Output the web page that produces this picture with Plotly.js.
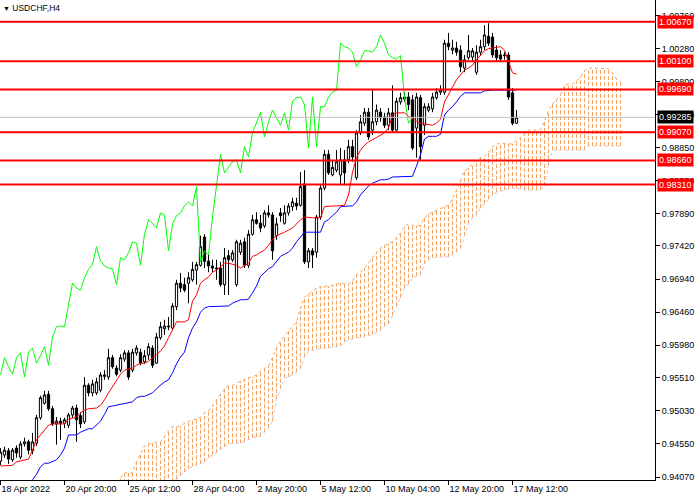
<!DOCTYPE html>
<html>
<head>
<meta charset="utf-8">
<script src="https://cdn.plot.ly/plotly-3.0.1.min.js"></script>
<style>html,body{margin:0;padding:0;background:#fff;}#chart{width:700px;height:500px;}</style>
</head>
<body>
<div id="chart"></div>
<script>
const symbolTitle = 'USDCHF,H4';
const tickBars = [0,16,32,48,64,80,96,112,128];
const tickLabels = ['18 Apr 2022','20 Apr 20:00','25 Apr 12:00','28 Apr 04:00','2 May 20:00','5 May 12:00','10 May 04:00','12 May 20:00','17 May 12:00'];
const priceTicks = [0.94070,0.94550,0.95030,0.95510,0.95980,0.96460,0.96940,0.97420,0.97890,0.98370,0.98850,0.99320,0.99800,1.00280,1.00760];
const levels = [1.00670,1.00100,0.99690,0.99070,0.98660,0.98310];
const bid = 0.99285;
const chikouShift = 26;
const cloudStart = 30;

const barOpen = [
.9430,.9439,.9445,.9432,.9449,.9436,.9455,.9458,.9445,.9456,
.9493,.9514,.9527,.9506,.9484,.9488,.9485,.9482,.9497,.9507,
.9496,.9487,.9540,.9529,.9529,.9533,.9553,.9552,.9580,.9565,
.9562,.9578,.9587,.9562,.9587,.9588,.9574,.9584,.9594,.9572,
.9609,.9622,.9626,.9623,.9654,.9688,.9686,.9688,.9693,.9707,
.9714,.9755,.9720,.9713,.9710,.9710,.9686,.9728,.9722,.9686,
.9733,.9748,.9714,.9759,.9780,.9775,.9771,.9790,.9787,.9757,
.9790,.9775,.9790,.9799,.9804,.9801,.9832,.9719,.9735,.9733,
.9784,.9826,.9875,.9845,.9852,.9845,.9867,.9867,.9886,.9841,
.9906,.9920,.9936,.9910,.9922,.9936,.9929,.9917,.9935,.9910,
.9951,.9955,.9958,.9954,.9913,.9957,.9917,.9939,.9941,.9957,
.9965,.9965,1.0036,1.0026,1.0029,1.0026,1.0000,1.0015,1.0016,.9994,
1.0023,1.0031,1.0046,1.0045,1.0026,1.0019,1.0019,1.0019,.9964,.9920];
const barHigh = [
.9449,.9451,.9449,.9449,.9453,.9459,.9464,.9461,.9471,.9497,
.9525,.9532,.9532,.9510,.9494,.9493,.9493,.9500,.9510,.9512,
.9501,.9552,.9543,.9548,.9551,.9559,.9562,.9593,.9584,.9569,
.9585,.9591,.9591,.9593,.9598,.9593,.9591,.9601,.9598,.9616,
.9632,.9635,.9639,.9659,.9693,.9703,.9696,.9704,.9719,.9719,
.9757,.9759,.9729,.9722,.9722,.9719,.9739,.9736,.9736,.9751,
.9751,.9754,.9765,.9787,.9791,.9787,.9794,.9801,.9791,.9783,
.9797,.9801,.9804,.9812,.9812,.9849,.9852,.9739,.9739,.9787,
.9830,.9881,.9881,.9867,.9881,.9884,.9881,.9896,.9896,.9910,
.9932,.9942,.9942,.9968,.9947,.9942,.9935,.9942,.9975,.9957,
.9964,.9965,.9965,.9961,.9964,.9961,.9949,.9949,.9964,.9971,
.9975,1.0041,1.0051,1.0041,1.0038,1.0033,1.0019,1.0048,1.0029,1.0033,
1.0041,1.0062,1.0065,1.0051,1.0033,1.0026,1.0023,1.0023,.9971,.9939];
const barLow = [
.9424,.9435,.9426,.9429,.9435,.9433,.9451,.9440,.9440,.9452,
.9490,.9512,.9503,.9481,.9454,.9461,.9478,.9478,.9493,.9458,
.9478,.9484,.9524,.9524,.9526,.9530,.9548,.9548,.9564,.9553,
.9559,.9574,.9548,.9559,.9583,.9569,.9571,.9577,.9565,.9571,
.9606,.9613,.9620,.9620,.9649,.9675,.9675,.9659,.9690,.9686,
.9712,.9710,.9704,.9704,.9693,.9683,.9671,.9671,.9719,.9683,
.9729,.9710,.9710,.9757,.9773,.9762,.9768,.9783,.9722,.9751,
.9777,.9773,.9786,.9793,.9794,.9799,.9716,.9710,.9710,.9725,
.9780,.9823,.9845,.9843,.9849,.9830,.9830,.9862,.9864,.9838,
.9903,.9916,.9896,.9903,.9917,.9922,.9913,.9910,.9907,.9907,
.9947,.9951,.9939,.9881,.9870,.9867,.9903,.9936,.9936,.9954,
.9961,.9961,1.0026,1.0020,1.0018,.9994,.9994,1.0012,1.0009,.9990,
1.0018,1.0026,1.0032,1.0015,1.0009,1.0009,1.0012,.9954,.9917,.9919];
const barClose = [
.9443,.9446,.9433,.9446,.9442,.9455,.9458,.9446,.9458,.9493,
.9522,.9526,.9506,.9484,.9488,.9485,.9490,.9497,.9507,.9490,
.9484,.9540,.9529,.9542,.9545,.9555,.9555,.9580,.9567,.9556,
.9580,.9587,.9552,.9588,.9594,.9572,.9583,.9596,.9569,.9610,
.9625,.9626,.9625,.9655,.9688,.9681,.9678,.9696,.9708,.9715,
.9741,.9720,.9713,.9710,.9709,.9686,.9725,.9722,.9732,.9748,
.9746,.9714,.9759,.9780,.9775,.9768,.9790,.9787,.9735,.9774,
.9786,.9790,.9800,.9806,.9800,.9828,.9719,.9735,.9729,.9784,
.9826,.9875,.9848,.9856,.9864,.9867,.9848,.9886,.9871,.9906,
.9922,.9936,.9900,.9922,.9939,.9928,.9917,.9935,.9910,.9952,
.9957,.9958,.9947,.9884,.9958,.9886,.9944,.9944,.9958,.9965,
.9968,1.0036,1.0031,1.0029,1.0023,1.0002,1.0012,1.0025,1.0025,1.0023,
1.0031,1.0048,1.0036,1.0019,1.0015,1.0013,1.0018,.9958,.9920,.99285];

const tenkan = [
.9423,.9423,.9423,.9424,.9429,.9430,.9432,.9433,.9446,.9461,
.9468,.9475,.9482,.9484,.9484,.9484,.9484,.9491,.9493,.9494,
.9500,.9504,.9506,.9507,.9507,.9511,.9519,.9529,.9538,.9548,
.9556,.9562,.9564,.9565,.9569,.9572,.9572,.9575,.9580,.9584,
.9590,.9597,.9609,.9620,.9632,.9632,.9632,.9635,.9662,.9671,
.9688,.9693,.9697,.9704,.9707,.9712,.9717,.9717,.9716,.9714,
.9710,.9713,.9717,.9727,.9729,.9733,.9736,.9743,.9751,.9757,
.9759,.9762,.9765,.9768,.9774,.9780,.9784,.9783,.9783,.9783,
.9783,.9799,.9800,.9800,.9800,.9800,.9801,.9816,.9849,.9870,
.9881,.9888,.9893,.9896,.9899,.9903,.9906,.9913,.9932,.9935,
.9935,.9935,.9930,.9926,.9923,.9920,.9919,.9917,.9917,.9920,
.9926,.9951,.9961,.9972,.9983,.9990,.9997,1.0000,1.0004,1.0012,
1.0018,1.0025,1.0028,1.0029,1.0031,1.0031,1.0026,1.0009,.9993,.9991];
const kijun = [
null,null,null,null,null,null,null,null,.9403,.9411,
.9422,.9427,.9427,.9429,.9432,.9439,.9449,.9468,.9468,.9468,
.9472,.9475,.9477,.9477,.9482,.9488,.9498,.9509,.9510,.9511,
.9513,.9514,.9514,.9516,.9522,.9524,.9524,.9527,.9529,.9535,
.9540,.9545,.9548,.9558,.9571,.9581,.9588,.9609,.9623,.9632,
.9646,.9652,.9654,.9654,.9654,.9654,.9654,.9655,.9659,.9662,
.9664,.9664,.9665,.9674,.9684,.9698,.9704,.9709,.9712,.9720,
.9727,.9730,.9733,.9739,.9748,.9755,.9762,.9762,.9762,.9762,
.9762,.9777,.9780,.9786,.9791,.9799,.9800,.9800,.9800,.9806,
.9816,.9823,.9829,.9833,.9836,.9838,.9838,.9839,.9842,.9842,
.9842,.9842,.9842,.9843,.9858,.9874,.9897,.9901,.9901,.9901,
.9904,.9932,.9939,.9944,.9951,.9959,.9964,.9964,.9964,.9964,
.9964,.9967,.9968,.9968,.9968,.9968,.9968,.9968,.9968,.9968];
const senkouA = [
.9406,.9413,.9413,.9413,.9429,.9440,.9452,.9455,.9456,.9456,
.9458,.9466,.9474,.9480,.9481,.9481,.9485,.9488,.9490,.9491,
.9494,.9500,.9503,.9510,.9519,.9527,.9535,.9539,.9540,.9543,
.9546,.9549,.9551,.9552,.9555,.9561,.9565,.9568,.9580,.9594,
.9604,.9612,.9619,.9625,.9632,.9652,.9668,.9672,.9677,.9681,
.9683,.9683,.9684,.9685,.9687,.9688,.9687,.9687,.9691,.9701,
.9704,.9710,.9717,.9725,.9733,.9739,.9743,.9745,.9748,.9754,
.9761,.9770,.9774,.9772,.9771,.9772,.9783,.9788,.9791,.9794,
.9797,.9799,.9801,.9810,.9823,.9838,.9851,.9855,.9861,.9867,
.9870,.9872,.9878,.9886,.9890,.9891,.9891,.9890,.9890,.9896,
.9899,.9904,.9910,.9910,.9910,.9910,.9923,.9938,.9948,.9954,
.9961,.9975,.9977,.9977,.9981,.9987,.9996,1.0000,1.0000,1.0000,
1.0000,1.0000,.9999,.9993,.9984,.9980];
const senkouB = [
.9381,.9381,.9381,.9381,.9381,.9381,.9381,.9381,.9381,.9388,
.9391,.9394,.9397,.9400,.9404,.9409,.9414,.9419,.9422,.9424,
.9426,.9429,.9435,.9439,.9442,.9446,.9451,.9455,.9456,.9456,
.9456,.9458,.9461,.9464,.9465,.9466,.9472,.9478,.9488,.9520,
.9535,.9551,.9552,.9555,.9559,.9564,.9581,.9590,.9591,.9593,
.9593,.9594,.9594,.9596,.9596,.9597,.9603,.9606,.9607,.9609,
.9609,.9610,.9612,.9614,.9617,.9620,.9626,.9629,.9641,.9655,
.9667,.9681,.9687,.9696,.9698,.9700,.9716,.9722,.9725,.9726,
.9726,.9726,.9726,.9729,.9733,.9738,.9757,.9774,.9783,.9787,
.9797,.9803,.9810,.9816,.9820,.9822,.9823,.9825,.9826,.9826,
.9825,.9823,.9823,.9823,.9823,.9823,.9829,.9859,.9881,.9881,
.9881,.9881,.9881,.9881,.9881,.9881,.9881,.9887,.9887,.9887,
.9887,.9887,.9887,.9887,.9887,.9887];

// positions derived from the arrays above
const barX = barClose.map((_, i) => i);
const cloudX = senkouA.map((_, k) => cloudStart + k);
const chikouX = [], chikouY = [];
barClose.forEach((c, i) => { if (i >= chikouShift) { chikouX.push(i - chikouShift); chikouY.push(c); } });
const hatchX = [], hatchY = [];
senkouA.forEach((a, k) => { hatchX.push(cloudX[k], cloudX[k], null); hatchY.push(senkouB[k], a, null); });

const font = 'Liberation Sans, Arial, sans-serif';

const traces = [
  {type:'scatter', mode:'lines', x:hatchX, y:hatchY, connectgaps:false,
   line:{color:'#F4A460', width:1, dash:'4px,2px'}, hoverinfo:'skip', showlegend:false},
  {type:'scatter', mode:'lines', x:cloudX, y:senkouB, line:{color:'#D8BFD8', width:1, dash:'dot'}, hoverinfo:'skip', showlegend:false},
  {type:'scatter', mode:'lines', x:cloudX, y:senkouA, line:{color:'#F4A460', width:1, dash:'dot'}, hoverinfo:'skip', showlegend:false},
  {type:'candlestick', x:barX, open:barOpen, high:barHigh, low:barLow, close:barClose,
   whiskerwidth:0,
   increasing:{line:{color:'#000000', width:1}, fillcolor:'#FFFFFF'},
   decreasing:{line:{color:'#000000', width:1}, fillcolor:'#000000'},
   hoverinfo:'skip', showlegend:false},
  {type:'scatter', mode:'lines', x:barX, y:kijun, line:{color:'#0000FF', width:1}, hoverinfo:'skip', showlegend:false},
  {type:'scatter', mode:'lines', x:barX, y:tenkan, line:{color:'#FF0000', width:1}, hoverinfo:'skip', showlegend:false},
  {type:'scatter', mode:'lines', x:chikouX, y:chikouY, line:{color:'#00FF00', width:1}, hoverinfo:'skip', showlegend:false}
];

const shapes = [
  {type:'line', xref:'paper', x0:0, x1:1, yref:'y', y0:bid, y1:bid, line:{color:'#C0C0C0', width:1}}
].concat(levels.map(v => ({type:'line', xref:'paper', x0:0, x1:1, yref:'y', y0:v, y1:v, line:{color:'#FF0000', width:2}})));

const annotations = levels.map(v => ({
  xref:'paper', x:1, xanchor:'left', xshift:2, yref:'y', y:v, yanchor:'middle',
  text:v.toFixed(5), showarrow:false, bgcolor:'#FF0000', borderpad:1,
  font:{family:font, size:9, color:'#FFFFFF'}
}));
annotations.push({xref:'paper', x:1, xanchor:'left', xshift:2, yref:'y', y:bid, yanchor:'middle',
  text:bid.toFixed(5), showarrow:false, bgcolor:'#000000', borderpad:1,
  font:{family:font, size:9, color:'#FFFFFF'}});
annotations.push({xref:'paper', yref:'paper', x:0, y:1, xanchor:'left', yanchor:'top', xshift:1, yshift:-1,
  text:'<span style="font-size:7px">▼</span> ' + symbolTitle, showarrow:false,
  font:{family:font, size:8.5, color:'#000000'}});

const layout = {
  width:700, height:500,
  margin:{l:0, r:45, t:0, b:20, pad:0},
  paper_bgcolor:'#FFFFFF', plot_bgcolor:'#FFFFFF',
  showlegend:false,
  boxgap:0.2,
  xaxis:{range:[-0.125, 163.625], tickvals:tickBars, ticktext:tickLabels,
    ticks:'outside', ticklen:4, tickcolor:'#000', showline:true, linecolor:'#000', linewidth:1,
    showgrid:false, zeroline:false, ticklabelposition:'outside right',
    tickfont:{family:font, size:9, color:'#000'}, rangeslider:{visible:false}, fixedrange:true},
  yaxis:{side:'right', range:[0.94027, 1.009865], tickvals:priceTicks, ticktext:priceTicks.map(v => v.toFixed(5)),
    ticks:'outside', ticklen:4, tickcolor:'#000', showline:true, linecolor:'#000', linewidth:1,
    showgrid:false, zeroline:false, tickfont:{family:font, size:9, color:'#000'}, fixedrange:true},
  shapes:shapes,
  annotations:annotations
};

Plotly.newPlot('chart', traces, layout, {displayModeBar:false, staticPlot:true});
</script>
</body>
</html>
